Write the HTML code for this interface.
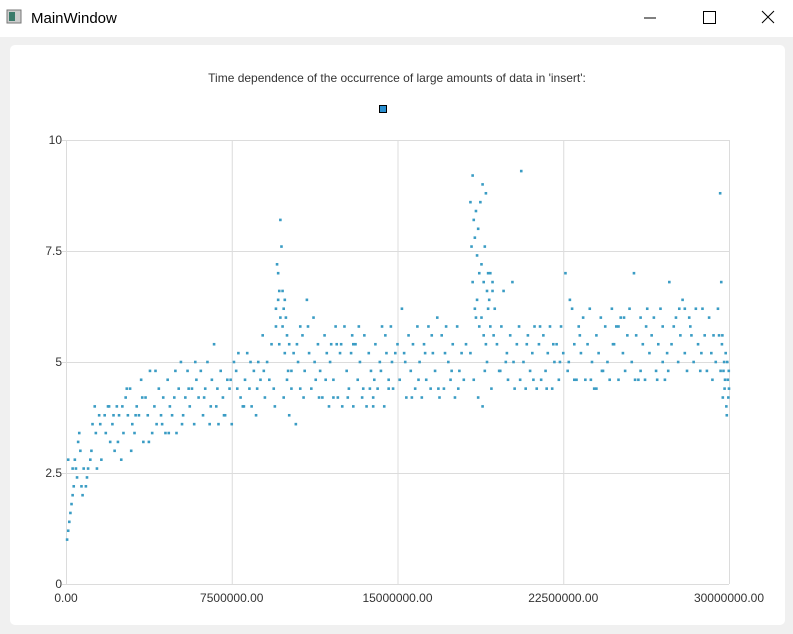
<!DOCTYPE html>
<html><head><meta charset="utf-8">
<style>
body{margin:0;width:793px;height:634px;background:#f0f0f0;font-family:"Liberation Sans",sans-serif;overflow:hidden;position:relative}
#titlebar{position:absolute;left:0;top:0;width:793px;height:37px;background:#fff}
#panel{position:absolute;left:10px;top:45px;width:775px;height:580px;background:#fff;border-radius:5px}
svg{position:absolute;left:0;top:0}
</style></head><body>
<div id="titlebar"></div>
<div id="panel"></div>
<svg width="793" height="634" id="chart">
  <g><rect x="7" y="10" width="14" height="13" fill="#ccc" stroke="#777"/><rect x="9" y="12" width="6" height="9" fill="#3a7a6a"/></g>
  <text x="31" y="23" font-size="15" fill="#000">MainWindow</text>
  <line x1="644" y1="18" x2="656" y2="18" stroke="#000"/>
  <rect x="703.5" y="11.5" width="12" height="12" fill="none" stroke="#000"/>
  <path d="M762 11 L774 23 M774 11 L762 23" stroke="#000"/>
  <text x="397" y="82" font-size="12" fill="#333" text-anchor="middle">Time dependence of the occurrence of large amounts of data in 'insert':</text>
  <rect x="379.5" y="105.5" width="7" height="7" fill="#2a8fd0" stroke="#000"/>
  <g id="grid"></g><g id="points"></g>
</svg>
<script>
const xTicks=[0,7500000,15000000,22500000,30000000];
const yTicks=[0,2.5,5,7.5,10];
const yTickLabels=["0","2.5","5","7.5","10"];
const timeM=[
0.05,0.1,0.15,0.2,0.25,0.3,0.35,0.4,0.45,0.5,
0.55,0.6,0.7,0.8,0.9,0.1,0.3,0.65,0.75,0.95,
1.0,1.1,1.2,1.3,1.4,1.5,1.6,1.8,1.9,2.0,
2.1,2.2,2.3,2.4,2.5,2.6,2.7,2.8,2.9,3.0,
1.15,1.35,1.55,1.75,1.95,2.15,2.35,2.55,2.75,2.95,
3.1,3.2,3.3,3.4,3.5,3.6,3.7,3.8,3.9,4.0,
4.1,4.2,4.3,4.4,4.5,4.6,4.7,4.8,4.9,5.0,
5.1,5.2,5.3,5.4,5.5,5.6,5.7,5.8,5.9,6.0,
3.15,3.45,3.75,4.05,4.35,4.65,4.95,5.25,5.55,5.85,
6.1,6.2,6.3,6.4,6.5,6.6,6.7,6.8,6.9,7.0,
7.1,7.2,7.3,7.4,7.5,7.6,7.7,7.8,7.9,8.0,
8.1,8.2,8.3,8.4,8.5,8.6,8.7,8.8,8.9,9.0,
6.25,6.55,6.85,7.15,7.45,7.75,8.05,8.35,8.65,8.95,
9.1,9.2,9.3,9.4,9.5,9.55,9.6,9.65,9.7,9.75,
9.8,9.85,9.9,9.95,10.0,10.05,10.1,10.2,10.3,9.45,
9.6,9.7,9.8,9.9,10.0,10.1,10.2,9.5,9.65,9.85,
10.4,10.5,10.6,10.7,10.8,10.9,11.0,11.1,11.2,11.3,
11.4,11.5,11.6,11.7,11.8,11.9,12.0,12.1,12.2,12.3,
12.4,12.5,12.6,12.7,12.8,12.9,13.0,13.1,13.2,13.3,
13.4,13.5,13.6,13.7,13.8,13.9,14.0,14.1,14.2,14.3,
14.4,14.5,14.6,14.7,14.8,14.9,15.0,10.45,10.95,11.45,
11.95,12.45,12.95,13.45,13.95,14.45,10.75,11.25,11.75,12.25,
12.75,13.25,13.75,14.25,14.75,12.1,13.0,13.9,14.6,10.6,
15.1,15.2,15.3,15.4,15.5,15.6,15.7,15.8,15.9,16.0,
16.1,16.2,16.3,16.4,16.5,16.6,16.7,16.8,16.9,17.0,
17.1,17.2,17.3,17.4,17.5,17.6,17.7,17.8,17.9,18.0,
15.35,15.65,15.95,16.25,16.55,16.85,17.15,17.45,17.75,18.1,
18.3,18.35,18.4,18.45,18.5,18.55,18.6,18.65,18.7,18.75,
18.8,18.85,18.9,18.95,19.0,19.05,19.1,19.15,19.2,19.3,
18.4,18.5,18.6,18.7,18.8,18.9,19.0,19.1,19.2,19.3,
18.3,18.45,18.55,18.65,18.85,18.95,19.05,19.25,19.35,19.4,
19.5,19.6,19.7,19.8,19.9,20.0,20.1,20.2,20.3,20.4,
20.5,20.6,20.7,20.8,20.9,21.0,21.1,21.2,21.3,21.4,
21.5,21.6,21.7,21.8,21.9,22.0,22.1,22.2,22.3,22.4,
19.65,19.95,20.25,20.55,20.85,21.15,21.45,21.75,22.05,22.35,
22.5,22.6,22.7,22.8,22.9,23.0,23.1,23.2,23.3,23.4,
23.5,23.6,23.7,23.8,23.9,24.0,24.1,24.2,24.3,24.4,
24.5,24.6,24.7,24.8,24.9,25.0,25.1,25.2,25.3,25.4,
25.5,25.6,25.7,25.8,25.9,26.0,26.1,26.2,26.3,26.4,
26.5,26.6,26.7,26.8,26.9,27.0,27.1,27.2,27.3,27.4,
27.5,27.6,27.7,27.8,27.9,28.0,28.1,28.2,28.3,28.4,
28.5,28.6,28.7,28.8,28.9,29.0,29.1,29.2,29.3,29.4,
22.75,23.25,23.75,24.25,24.75,25.25,25.75,26.25,26.75,27.25,
27.75,28.25,28.75,29.25,23.0,24.0,25.0,26.0,27.0,28.0,
29.5,29.6,29.65,29.7,29.75,29.8,29.85,29.9,29.95,30.0,
29.55,29.62,29.68,29.72,29.78,29.82,29.88,29.92,29.97,29.99
];
const amount=[
1.0,1.2,1.4,1.6,1.8,2.0,2.2,2.8,2.6,2.4,
3.2,3.4,2.2,2.6,2.2,2.8,2.6,3.0,2.0,2.4,
2.6,2.8,3.6,4.0,2.6,3.8,2.8,3.4,4.0,3.2,
3.6,3.0,4.0,3.8,2.8,3.4,4.2,3.8,4.4,3.6,
3.0,3.4,3.6,3.8,4.0,3.8,3.2,4.0,4.4,3.0,
3.4,4.0,3.8,4.6,3.2,4.2,3.8,4.8,3.4,4.0,
3.6,4.4,3.8,4.2,3.4,4.6,4.0,3.8,4.2,3.4,
4.4,5.0,3.8,4.2,4.8,4.0,4.4,3.6,4.6,4.2,
3.8,4.2,3.2,4.8,3.6,3.4,4.8,3.6,4.4,5.0,
4.8,3.8,4.4,5.0,3.6,4.6,5.4,4.0,3.6,4.8,
4.2,3.8,4.6,4.4,3.6,5.0,4.8,5.2,4.2,4.0,
4.6,5.2,4.4,4.0,4.8,3.8,5.0,4.6,5.6,4.2,
4.2,4.0,4.4,3.8,4.6,4.4,4.0,5.0,4.4,4.8,
5.0,4.6,5.4,4.4,5.8,7.2,7.0,6.6,8.2,7.6,
6.6,6.2,6.4,6.0,5.6,4.8,3.8,4.4,5.2,4.0,
6.4,6.0,5.8,5.2,4.6,5.4,4.8,6.2,5.4,4.2,
3.6,5.0,4.4,5.6,4.8,6.4,5.2,4.4,6.0,4.6,
5.4,4.8,4.2,5.6,5.2,4.0,5.4,4.6,5.8,4.2,
5.2,4.0,5.8,4.8,4.4,5.2,4.0,5.4,4.6,5.0,
4.2,5.6,4.0,5.2,4.8,4.0,5.4,4.4,5.0,5.8,
4.0,5.2,4.6,5.8,4.4,5.2,5.4,5.4,5.8,4.2,
5.0,5.4,5.6,4.4,4.6,5.6,4.2,5.0,4.6,5.4,
4.2,5.8,4.4,4.8,5.0,4.2,5.4,4.2,4.4,5.8,
4.6,6.2,5.2,4.2,5.6,4.8,5.4,4.4,5.8,5.0,
4.2,5.4,4.6,5.8,4.4,5.2,4.8,6.0,4.2,5.6,
4.4,5.8,5.0,4.6,5.4,4.2,5.8,4.8,5.2,4.6,
5.0,4.2,4.6,5.2,5.6,4.4,5.2,4.8,4.4,5.4,
8.6,7.6,9.2,8.2,7.8,8.4,7.4,8.0,7.0,8.6,
7.2,9.0,6.8,7.6,8.8,6.6,7.0,6.4,7.0,6.6,
6.8,6.2,6.4,5.8,6.0,5.6,5.4,6.2,5.8,6.8,
5.2,4.6,6.0,4.2,4.0,4.8,5.0,4.4,5.6,6.2,
5.4,4.8,5.8,6.6,5.0,4.6,5.6,6.8,4.4,5.4,
5.8,9.3,5.0,4.4,5.6,4.8,5.2,5.8,4.4,5.4,
4.6,5.6,4.8,5.2,5.8,4.4,5.0,5.4,4.6,5.8,
4.8,5.2,5.0,4.6,5.4,4.6,5.8,4.4,5.4,5.0,
5.2,7.0,4.8,6.4,6.2,5.4,4.6,5.8,5.2,6.0,
4.6,5.4,6.2,5.0,4.4,5.6,5.2,6.0,4.8,5.8,
5.0,4.6,6.2,5.4,5.8,4.6,6.0,5.2,4.8,5.6,
6.2,5.0,7.0,5.6,4.6,6.0,5.4,4.6,6.2,5.2,
5.6,6.0,4.8,5.4,6.2,5.8,4.6,5.2,6.8,5.4,
5.8,6.0,5.0,5.6,6.4,5.2,4.8,6.0,5.6,5.0,
6.2,5.4,4.8,6.2,5.6,4.8,6.0,5.2,5.6,5.0,
5.0,5.6,4.6,4.8,5.4,6.0,4.6,5.8,4.6,4.8,
6.2,5.8,5.2,4.6,4.6,4.4,5.8,4.8,5.0,6.2,
6.2,8.8,6.8,5.6,4.8,4.4,5.2,3.8,4.6,4.4,
5.6,4.8,5.4,4.2,5.0,4.6,4.0,5.0,4.2,4.8
];
const L=66,R=729,T=140,B=584,XMAX=30000000,YMAX=10;
function sx(v){return L+v/XMAX*(R-L);}
function sy(v){return B-v/YMAX*(B-T);}
const NS="http://www.w3.org/2000/svg";
const grid=document.getElementById('grid');
xTicks.forEach(function(t){
  const ln=document.createElementNS(NS,'line');
  ln.setAttribute('x1',sx(t)+0.5);ln.setAttribute('x2',sx(t)+0.5);ln.setAttribute('y1',T);ln.setAttribute('y2',B);
  ln.setAttribute('stroke','#dcdcdc');
  
  
  grid.appendChild(ln);
  const tx=document.createElementNS(NS,'text');
  tx.setAttribute('x',sx(t));tx.setAttribute('y',B+18);tx.setAttribute('font-size','12');tx.setAttribute('fill','#333');tx.setAttribute('text-anchor','middle');
  tx.textContent=t.toFixed(2);
  
  
  grid.appendChild(tx);
});
yTicks.forEach(function(t,i){
  const ln=document.createElementNS(NS,'line');
  ln.setAttribute('x1',L-4);ln.setAttribute('x2',R);ln.setAttribute('y1',sy(t)+0.5);ln.setAttribute('y2',sy(t)+0.5);
  ln.setAttribute('stroke','#dcdcdc');
  
  
  grid.appendChild(ln);
  const tx=document.createElementNS(NS,'text');
  tx.setAttribute('x',L-4);tx.setAttribute('y',sy(t)+4);tx.setAttribute('font-size','12');tx.setAttribute('fill','#333');tx.setAttribute('text-anchor','end');
  tx.textContent=yTickLabels[i];
  
  
  grid.appendChild(tx);
});
const pg=document.getElementById('points');
for(let i=0;i<timeM.length;i++){
  const r=document.createElementNS(NS,'rect');
  r.setAttribute('x',sx(timeM[i]*1000000)-1.3);r.setAttribute('y',sy(amount[i])-1.3);
  r.setAttribute('width',2.6);r.setAttribute('height',2.6);r.setAttribute('fill','#3a9cc4');
  
  
  pg.appendChild(r);
}
</script>
</body></html>
